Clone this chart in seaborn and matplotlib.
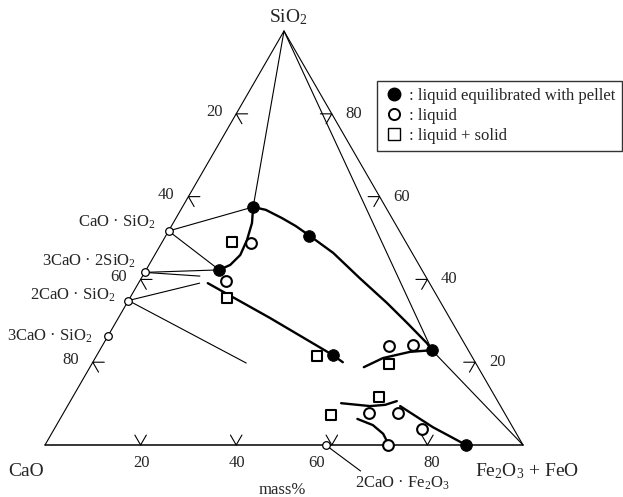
"""
CaO - SiO2 - (Fe2O3 + FeO) ternary section, liquid compositions in contact with pellet.
"""

import numpy as np
import pandas as pd
import matplotlib.pyplot as plt
import seaborn as sns
from matplotlib.lines import Line2D

# compositions in mass%: (Fe2O3 + FeO, SiO2), CaO is the balance
filled_fe = [14.8, 30.0, 15.3, 49.4, 69.5, 88.1]
filled_si = [57.5, 50.6, 42.3, 21.7, 22.9, 0.0]

open_fe = [18.7, 18.1, 60.0, 64.9, 63.9, 70.0, 76.9, 71.8]
open_si = [48.8, 39.6, 23.9, 24.2, 7.7, 7.7, 3.9, 0.0]

square_fe = [14.6, 20.3, 46.2, 62.2, 64.1, 56.2]
square_si = [49.0, 35.5, 21.5, 19.6, 11.6, 7.2]

compound_names = ['CaO · SiO$_2$', '3CaO · 2SiO$_2$', '2CaO · SiO$_2$', '3CaO · SiO$_2$', '2CaO · Fe$_2$O$_3$']
compound_fe = [0.0, 0.0, 0.0, 0.0, 58.7]
compound_si = [51.7, 41.7, 34.9, 26.3, 0.0]

# liquidus / boundary curves (thick)
curve_a_fe = [14.8, 16.5, 17.5, 17.9, 17.0, 15.3]
curve_a_si = [57.5, 53.6, 49.5, 45.9, 43.5, 42.3]
curve_b_fe = [14.8, 17.8, 22.2, 26.0, 30.0, 37.1, 45.7, 54.4, 61.0, 67.6, 69.5]
curve_b_si = [57.5, 56.8, 54.8, 52.9, 50.6, 46.4, 40.3, 34.3, 29.5, 24.6, 22.9]
curve_c_fe = [14.5, 31.7, 49.4, 52.3]
curve_c_si = [39.1, 30.7, 21.7, 20.0]
curve_d_fe = [57.3, 60.2, 65.1, 69.5]
curve_d_si = [18.8, 21.0, 22.5, 22.9]
curve_e_fe = [56.9, 63.3, 66.3, 68.3]
curve_e_si = [10.1, 9.4, 9.7, 10.6]
curve_f_fe = [62.2, 66.2, 69.4, 71.0]
curve_f_si = [6.3, 4.8, 2.7, 1.0]
curve_g_fe = [69.6, 79.0, 88.1]
curve_g_si = [9.4, 4.3, 0.0]

# thin tie lines
tie_fe = [[0.0, 14.8], [0.0, 69.5, 100.0], [0.0, 14.8], [0.0, 15.3],
          [0.0, 15.3], [0.0, 12.0], [0.0, 12.8], [0.0, 32.2]]
tie_si = [[100.0, 57.5], [100.0, 22.9, 0.0], [51.7, 57.5], [51.7, 42.3],
          [41.7, 42.3], [41.7, 40.8], [34.9, 39.1], [34.9, 19.8]]

tick_values = [20, 40, 60, 80]

SQ = np.sqrt(3) / 2
PX = 4.78  # pixels per composition unit


def tern(fe, si):
    fe = np.asarray(fe, float)
    si = np.asarray(si, float)
    return fe + si / 2, si * SQ


def off(dx, dy):
    # pixel offset -> points (dpi 100)
    return (dx * 0.72, -dy * 0.72)


sns.set_style('white')
plt.rcParams['font.family'] = ['Liberation Serif', 'DejaVu Serif']
plt.rcParams['mathtext.fontset'] = 'custom'
plt.rcParams['mathtext.rm'] = 'Liberation Serif'
plt.rcParams['mathtext.default'] = 'regular'

fig = plt.figure(figsize=(6.23, 4.97), dpi=100)
ax = fig.add_axes([0, 0, 1, 1])
ax.set_xlim(-45 / PX, 578 / PX)
ax.set_ylim(-52 / PX, 445 / PX)
ax.axis('off')

# triangle frame
ax.plot([0, 100], [0, 0], color='black', lw=1.1)
ax.plot([0, 50, 100], [0, 100 * SQ, 0], color='black', lw=0.8)

# tick chevrons
L = 2.4
for v in tick_values:
    # left edge: CaO content
    x0, y0 = tern(0, 100 - v)
    ax.plot([x0 + L, x0, x0 + L * 0.5], [y0, y0, y0 - L * SQ], color='black', lw=0.8)
    ax.annotate(str(v), (x0, y0), xytext=off(-22, -2), textcoords='offset points',
                ha='center', va='center', fontsize=12)
    # bottom edge: Fe2O3 + FeO content
    x0, y0 = tern(v, 0)
    ax.plot([x0 - L * 0.5, x0, x0 + L * 0.5], [y0 + L * SQ, y0, y0 + L * SQ], color='black', lw=0.8)
    nudge = {60: -15, 80: 4}.get(v, 1)
    ax.annotate(str(v), (x0, y0), xytext=off(nudge, 18), textcoords='offset points',
                ha='center', va='center', fontsize=12)
    # right edge: SiO2 content
    x0, y0 = tern(100 - v, v)
    ax.plot([x0 - L, x0, x0 - L * 0.5], [y0, y0, y0 - L * SQ], color='black', lw=0.8)
    ax.annotate(str(v), (x0, y0), xytext=off(22, 0), textcoords='offset points',
                ha='center', va='center', fontsize=12)

# tie lines
for fe, si in zip(tie_fe, tie_si):
    x, y = tern(fe, si)
    ax.plot(x, y, color='black', lw=0.8)

# boundary curves
curves = [(curve_a_fe, curve_a_si), (curve_b_fe, curve_b_si), (curve_c_fe, curve_c_si),
          (curve_d_fe, curve_d_si), (curve_e_fe, curve_e_si), (curve_f_fe, curve_f_si),
          (curve_g_fe, curve_g_si)]
for fe, si in curves:
    x, y = tern(fe, si)
    sns.lineplot(x=x, y=y, sort=False, estimator=None, color='black', lw=1.7, ax=ax)

# compounds
cx, cy = tern(compound_fe, compound_si)
x2, y2 = cx[4] + 35 / PX, cy[4] - 26 / PX
ax.plot([cx[4], x2], [cy[4], y2], color='black', lw=0.8)
sns.scatterplot(x=cx, y=cy, marker='o', s=30, color='white', edgecolor='black',
                linewidth=0.9, ax=ax, zorder=5)
label_offsets = [(-13, -9), (-9, -11), (-13, -5), (-15, 0)]
for i, (dx, dy) in enumerate(label_offsets):
    ax.annotate(compound_names[i], (cx[i], cy[i]), xytext=off(dx, dy), textcoords='offset points',
                ha='right', va='center', fontsize=12)
ax.annotate(compound_names[4], (cx[4], cy[4]), xytext=off(77, 38), textcoords='offset points',
            ha='center', va='center', fontsize=12)

# measured points
df = pd.concat([
    pd.DataFrame({'kind': 'filled', 'fe': filled_fe, 'si': filled_si}),
    pd.DataFrame({'kind': 'open', 'fe': open_fe, 'si': open_si}),
    pd.DataFrame({'kind': 'square', 'fe': square_fe, 'si': square_si}),
])
df['x'], df['y'] = tern(df['fe'], df['si'])

sns.scatterplot(data=df[df.kind == 'filled'], x='x', y='y', marker='o', s=70,
                color='black', edgecolor='black', ax=ax, zorder=6)
sns.scatterplot(data=df[df.kind == 'open'], x='x', y='y', marker='o', s=60,
                color='white', edgecolor='black', linewidth=1.5, ax=ax, zorder=6)
sns.scatterplot(data=df[df.kind == 'square'], x='x', y='y', marker='s', s=55,
                color='white', edgecolor='black', linewidth=1.5, ax=ax, zorder=6)
ax.set_xlabel('')
ax.set_ylabel('')

# vertex labels
ax.annotate('SiO$_2$', tern(0, 100), xytext=off(4, -14), textcoords='offset points',
            ha='center', va='center', fontsize=14)
ax.annotate('CaO', tern(0, 0), xytext=off(-19, 26), textcoords='offset points',
            ha='center', va='center', fontsize=14)
ax.annotate('Fe$_2$O$_3$ + FeO', tern(100, 0), xytext=off(4, 26), textcoords='offset points',
            ha='center', va='center', fontsize=14)
ax.annotate('mass%', tern(50, 0), xytext=off(-2, 45), textcoords='offset points',
            ha='center', va='center', fontsize=12)

handles = [
    Line2D([], [], ls='', marker='o', ms=9, mfc='black', mec='black'),
    Line2D([], [], ls='', marker='o', ms=8, mfc='white', mec='black', mew=1.4),
    Line2D([], [], ls='', marker='s', ms=8, mfc='white', mec='black', mew=1.0),
]
labels = [': liquid equilibrated with pellet', ': liquid', ': liquid + solid']
leg = ax.legend(handles, labels, loc='upper left', bbox_to_anchor=(377 / 623, 1 - 81 / 497),
                bbox_transform=fig.transFigure, frameon=True, fancybox=False, fontsize=12,
                handlelength=1.23, handletextpad=0.28, borderpad=0.4, labelspacing=0.25,
                borderaxespad=0)
leg.get_frame().set_edgecolor('black')
leg.get_frame().set_linewidth(1.0)

fig.savefig('out.png', dpi=100)
